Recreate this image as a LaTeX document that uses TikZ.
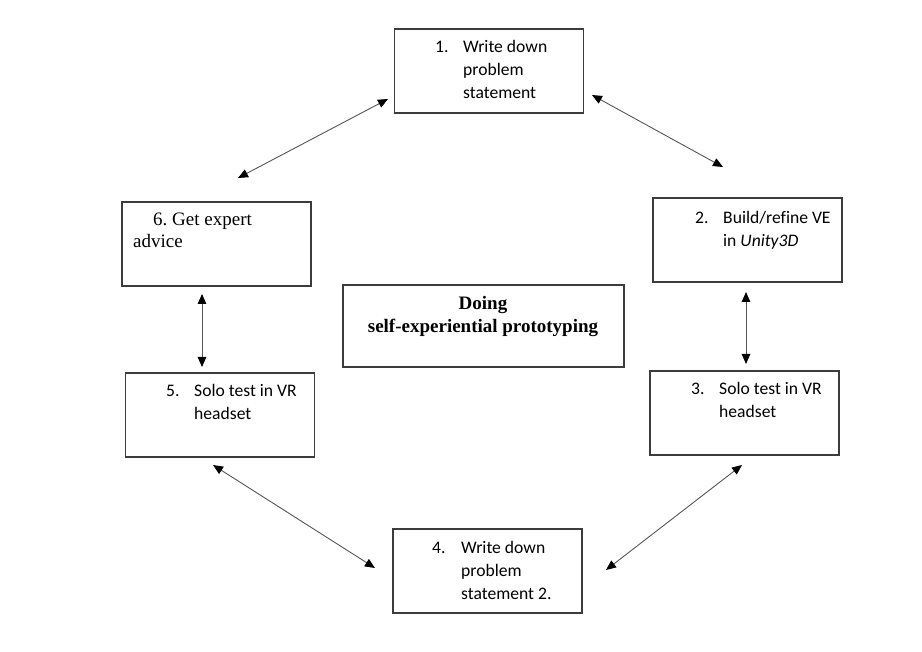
\documentclass[tikz,border=0pt]{standalone}
\usepackage{fontspec}
\setmainfont{Liberation Serif}
\newfontfamily\carlito[Ligatures=NoCommon]{Carlito}
\usetikzlibrary{arrows.meta}
\definecolor{boxline}{HTML}{3C3C3C}
\definecolor{arrline}{HTML}{555555}
\tikzset{
  x=1pt, y=-1pt,
  box/.style={draw=boxline, line width=1.2pt, minimum width=189pt, minimum height=84pt, inner sep=0pt},
  ctext/.style={anchor=base west, inner sep=0pt, font=\carlito\fontsize{17.6}{22}\selectfont},
  ttext/.style={anchor=base west, inner sep=0pt, font=\fontsize{19}{22}\selectfont},
  conn/.style={draw=arrline, line width=0.9pt, {Triangle[length=10pt,width=8.5pt,color=black]}-{Triangle[length=10pt,width=8.5pt,color=black]}},
}
\begin{document}
\begin{tikzpicture}
\useasboundingbox (0,0) rectangle (922,652);
% boxes
\node[box] (b1) at (489,71) {};
\node[box] (b2) at (747.5,240) {};
\node[box] (b3) at (744.5,413) {};
\node[box] (b4) at (487.5,571) {};
\node[box] (b5) at (220,415) {};
\node[box] (b6) at (216.5,244) {};
\node[box, minimum width=281pt, minimum height=82pt] (bc) at (483.5,326) {};
% box 1
\node[ctext] (n1) at (435,53) {1.};
\node[ctext] (t1a) at (463,53) {Write down};
\node[ctext] (t1b) at (463,76) {problem};
\node[ctext] (t1c) at (463,99) {statement};
% box 2
\node[ctext] (n2) at (695,224) {2.};
\node[ctext] (t2a) at (723,224) {Build/refine VE};
\node[ctext] (t2b) at (723,247) {in \textit{Unity3D}};
% box 3
\node[ctext] (n3) at (691,395) {3.};
\node[ctext] (t3a) at (719,395) {Solo test in VR};
\node[ctext] (t3b) at (719,418) {headset};
% box 4
\node[ctext] (n4) at (432,553) {4.};
\node[ctext] (t4a) at (461,553) {Write down};
\node[ctext] (t4b) at (461,576) {problem};
\node[ctext] (t4c) at (461,599) {statement 2.};
% box 5
\node[ctext] (n5) at (166,397) {5.};
\node[ctext] (t5a) at (194,397) {Solo test in VR};
\node[ctext] (t5b) at (194,420) {headset};
% box 6
\node[ttext] (t6a) at (153,226) {6.\ Get expert};
\node[ttext] (t6b) at (133,248) {advice};
% centre
\node[anchor=base, inner sep=0pt, font=\bfseries\fontsize{19}{22}\selectfont] (c1) at (483,310) {Doing};
\node[anchor=base, inner sep=0pt, font=\bfseries\fontsize{19}{22}\selectfont] (c2) at (483,333) {self-experiential prototyping};
% arrow end points
\coordinate (a1) at (388,99);
\coordinate (a2) at (238,178);
\coordinate (b1e) at (592,95);
\coordinate (b2e) at (723,167);
\coordinate (c1e) at (202,294);
\coordinate (c2e) at (202,367);
\coordinate (d1e) at (746,292);
\coordinate (d2e) at (746,364);
\coordinate (e1e) at (213,465);
\coordinate (e2e) at (375,568);
\coordinate (f1e) at (742,465);
\coordinate (f2e) at (606,570);
\draw[conn] (a1) -- (a2);
\draw[conn] (b1e) -- (b2e);
\draw[conn] (c1e) -- (c2e);
\draw[conn] (d1e) -- (d2e);
\draw[conn] (e1e) -- (e2e);
\draw[conn] (f1e) -- (f2e);
\end{tikzpicture}
\end{document}
